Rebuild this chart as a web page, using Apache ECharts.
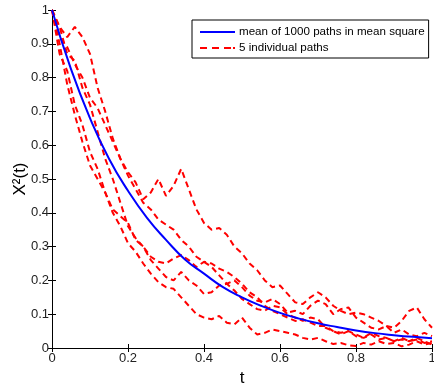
<!DOCTYPE html>
<html>
<head>
<meta charset="utf-8">
<script src="https://cdn.jsdelivr.net/npm/echarts@6/dist/echarts.min.js"></script>
<style>
html,body{margin:0;padding:0;background:#fff;}
#c{width:434px;height:388px;}
</style>
</head>
<body>
<div id="c"></div>
<script>
// time grid of the individual paths
var tGrid = [0,0.02,0.04,0.06,0.08,0.10,0.12,0.14,0.16,0.18,0.20,0.22,0.24,0.26,0.28,0.30,0.32,0.34,0.36,0.38,0.40,0.42,0.44,0.46,0.48,0.50,0.52,0.54,0.56,0.58,0.60,0.62,0.64,0.66,0.68,0.70,0.72,0.74,0.76,0.78,0.80,0.82,0.84,0.86,0.88,0.90,0.92,0.94,0.96,0.98,1.00];

// mean of 1000 paths
var meanT = [0,0.05,0.10,0.15,0.20,0.25,0.30,0.35,0.40,0.45,0.50,0.55,0.60,0.65,0.70,0.75,0.80,0.85,0.90,0.95,1.00];
var meanVals = [1,0.825,0.68,0.56,0.465,0.385,0.32,0.262,0.22,0.18,0.15,0.125,0.104,0.087,0.073,0.062,0.052,0.044,0.038,0.033,0.029];

// five individual paths
var pathA = [1.00,0.95,0.92,0.95,0.92,0.87,0.77,0.70,0.62,0.56,0.52,0.49,0.44,0.46,0.50,0.45,0.48,0.53,0.47,0.41,0.37,0.35,0.355,0.335,0.30,0.28,0.25,0.23,0.20,0.18,0.185,0.16,0.135,0.13,0.15,0.165,0.15,0.125,0.11,0.10,0.105,0.10,0.09,0.08,0.065,0.06,0.08,0.11,0.12,0.085,0.06];
var pathB = [1.00,0.92,0.89,0.84,0.80,0.74,0.71,0.66,0.61,0.56,0.51,0.47,0.43,0.41,0.38,0.365,0.35,0.32,0.30,0.27,0.255,0.24,0.215,0.19,0.20,0.18,0.155,0.14,0.135,0.145,0.13,0.105,0.11,0.10,0.125,0.14,0.13,0.10,0.115,0.12,0.09,0.075,0.06,0.055,0.065,0.045,0.055,0.04,0.035,0.045,0.035];
var pathC = [1.00,0.87,0.82,0.72,0.66,0.58,0.53,0.46,0.41,0.39,0.37,0.32,0.30,0.27,0.255,0.25,0.265,0.275,0.26,0.24,0.255,0.25,0.235,0.225,0.21,0.19,0.165,0.15,0.125,0.11,0.10,0.09,0.08,0.085,0.075,0.065,0.065,0.05,0.045,0.05,0.04,0.03,0.045,0.035,0.03,0.02,0.03,0.02,0.025,0.015,0.02];
var pathD = [1.00,0.90,0.78,0.69,0.61,0.54,0.50,0.46,0.40,0.36,0.31,0.285,0.25,0.22,0.195,0.18,0.175,0.15,0.125,0.10,0.09,0.085,0.095,0.075,0.07,0.09,0.06,0.04,0.045,0.055,0.05,0.045,0.04,0.03,0.025,0.03,0.02,0.012,0.015,0.008,0.006,0.015,0.01,0.02,0.012,0.015,0.005,0.01,0.02,0.01,0.015];
var pathE = [1.00,0.95,0.87,0.85,0.77,0.72,0.64,0.56,0.50,0.43,0.36,0.325,0.30,0.26,0.235,0.21,0.20,0.225,0.20,0.185,0.16,0.165,0.185,0.19,0.17,0.145,0.13,0.115,0.11,0.125,0.12,0.10,0.09,0.08,0.09,0.085,0.06,0.05,0.04,0.05,0.035,0.03,0.04,0.025,0.03,0.02,0.025,0.02,0.03,0.02,0.01];

var meanName = 'mean of 1000 paths in mean square';
var pathName = '5 individual paths';

function zip(xs, ys){ return xs.map(function(x,i){ return [x, ys[i]]; }); }

var font = '"Liberation Sans", Arial, Helvetica, sans-serif';
var redPaths = [pathA, pathB, pathC, pathD, pathE];

var series = redPaths.map(function(p){
  return {
    name: pathName, type: 'line', data: zip(tGrid, p),
    showSymbol: false, symbol: 'none', animation: false,
    lineStyle: {color: '#ff0000', width: 2, type: [6,4]},
    itemStyle: {color: '#ff0000'}, z: 2
  };
});
series.unshift({
  name: meanName, type: 'line', data: zip(meanT, meanVals), smooth: true,
  showSymbol: false, symbol: 'none', animation: false,
  lineStyle: {color: '#0000ff', width: 2}, itemStyle: {color: '#0000ff'}, z: 3
});

var tickLabel = {color: '#222', fontSize: 13, fontFamily: font};
var chart = echarts.init(document.getElementById('c'), null, {renderer: 'canvas'});
chart.setOption({
  animation: false,
  grid: {left: 52, right: 2, top: 10, bottom: 40, containLabel: false, outerBoundsMode: 'none'},
  legend: {
    left: 192, top: 20, orient: 'vertical',
    data: [
      {name: meanName, icon: 'path://M0,6h35v2h-35z', itemStyle: {color: '#0000ff'}},
      {name: pathName, icon: 'path://M0,6h7v2h-7zM12,6h7v2h-7zM24,6h7v2h-7zM33,6h2v2h-2z', itemStyle: {color: '#ff0000'}}
    ],
    itemWidth: 35, itemHeight: 14, itemGap: 4,
    padding: [6, 4, 4, 8],
    backgroundColor: '#fff', borderColor: '#000', borderWidth: 1,
    textStyle: {color: '#000', fontSize: 11.6, fontFamily: font, padding: [0,0,0,-1]},
    selectedMode: false
  },
  xAxis: [{
    type: 'value', min: 0, max: 1, interval: 0.2,
    name: 't', nameLocation: 'middle', nameGap: 22, nameMoveOverlap: false,
    nameTextStyle: {color: '#000', fontSize: 17, fontFamily: font},
    axisLine: {lineStyle: {color: '#000', width: 1}},
    axisTick: {inside: true, length: 4, lineStyle: {color: '#000'}},
    axisLabel: Object.assign({margin: 4, formatter: function(v){ return String(+v.toFixed(1)); }}, tickLabel),
    splitLine: {show: false}
  },{
    type: 'value', min: 0, max: 1, interval: 0.2, position: 'top',
    axisLine: {show: true, lineStyle: {color: '#000', width: 1}},
    axisTick: {inside: true, length: 4, lineStyle: {color: '#000'}},
    axisLabel: {show: false}, splitLine: {show: false}
  }],
  yAxis: [{
    type: 'value', min: 0, max: 1, interval: 0.1,
    name: 'X\u00b2(t)', nameLocation: 'middle', nameGap: 23, nameMoveOverlap: false,
    nameTextStyle: {color: '#000', fontSize: 17, fontFamily: font},
    axisLine: {show: true, lineStyle: {color: '#000', width: 1}},
    axisTick: {show: true, inside: true, length: 4, lineStyle: {color: '#000'}},
    axisLabel: Object.assign({margin: 3, formatter: function(v){ return String(+v.toFixed(1)); }}, tickLabel),
    splitLine: {show: false}
  },{
    type: 'value', min: 0, max: 1, interval: 0.1, position: 'right',
    axisLine: {show: true, lineStyle: {color: '#000', width: 1}},
    axisTick: {show: true, inside: true, length: 4, lineStyle: {color: '#000'}},
    axisLabel: {show: false}, splitLine: {show: false}
  }],
  series: series
});
</script>
</body>
</html>
